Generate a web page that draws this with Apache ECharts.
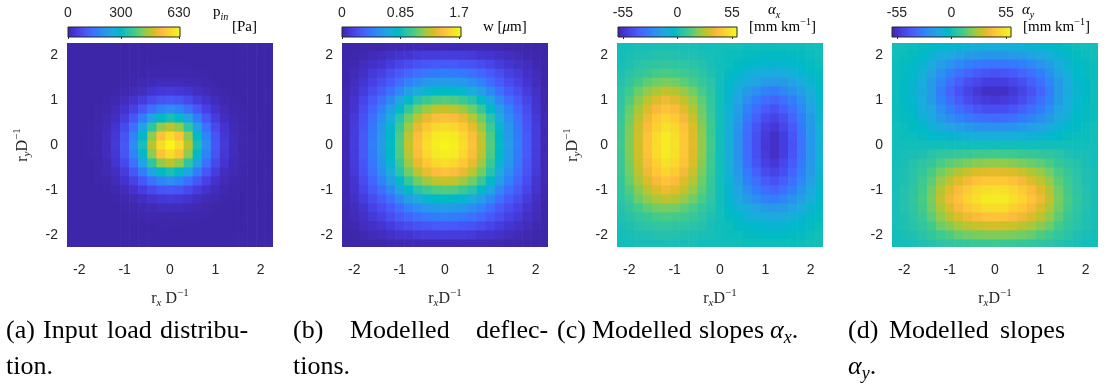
<!DOCTYPE html>
<html><head><meta charset="utf-8">
<script src="https://cdn.jsdelivr.net/npm/echarts@6/dist/echarts.min.js"></script>
<style>html,body{margin:0;padding:0;background:#fff}#c{width:1108px;height:389px}</style>
</head><body><div id="c"></div>
<script>
// ---------- data ----------
const X_CENTERS = [-2.2,-2,-1.8,-1.6,-1.4,-1.2,-1,-0.8,-0.6,-0.4,-0.2,0,0.2,0.4,0.6,0.8,1,1.2,1.4,1.6,1.8,2,2.2];
const Y_CENTERS = [2.2,2,1.8,1.6,1.4,1.2,1,0.8,0.6,0.4,0.2,0,-0.2,-0.4,-0.6,-0.8,-1,-1.2,-1.4,-1.6,-1.8,-2,-2.2];
const AXIS_TICKS = [-2,-1,0,1,2];

// (a) input load p_in [Pa], rows from y=2.2 (top) to y=-2.2 (bottom)
const loadRows = [
[0,0,0,0,0,0,0,0,0,0,0,0,0,0,0,0,0,0,0,0,0,0,0],
[0,0,0,0,0,0,0,0,0,0,0,0,0,0,0,0,0,0,0,0,0,0,0],
[0,0,0,0,0,0,0,0,1,1,2,2,2,1,1,0,0,0,0,0,0,0,0],
[0,0,0,0,0,0,1,2,3,4,5,5,5,4,3,2,1,0,0,0,0,0,0],
[0,0,0,0,0,1,3,5,9,12,16,17,16,12,9,5,3,1,0,0,0,0,0],
[0,0,0,0,1,3,7,13,22,33,41,44,41,33,22,13,7,3,1,0,0,0,0],
[0,0,0,1,3,7,16,30,51,74,92,99,92,74,51,30,16,7,3,1,0,0,0],
[0,0,0,2,5,13,30,59,99,143,179,193,179,143,99,59,30,13,5,2,0,0,0],
[0,0,1,3,9,22,51,99,166,241,300,323,300,241,166,99,51,22,9,3,1,0,0],
[0,0,1,4,12,33,74,143,241,348,435,468,435,348,241,143,74,33,12,4,1,0,0],
[0,0,2,5,16,41,92,179,300,435,543,585,543,435,300,179,92,41,16,5,2,0,0],
[0,0,2,5,17,44,99,193,323,468,585,630,585,468,323,193,99,44,17,5,2,0,0],
[0,0,2,5,16,41,92,179,300,435,543,585,543,435,300,179,92,41,16,5,2,0,0],
[0,0,1,4,12,33,74,143,241,348,435,468,435,348,241,143,74,33,12,4,1,0,0],
[0,0,1,3,9,22,51,99,166,241,300,323,300,241,166,99,51,22,9,3,1,0,0],
[0,0,0,2,5,13,30,59,99,143,179,193,179,143,99,59,30,13,5,2,0,0,0],
[0,0,0,1,3,7,16,30,51,74,92,99,92,74,51,30,16,7,3,1,0,0,0],
[0,0,0,0,1,3,7,13,22,33,41,44,41,33,22,13,7,3,1,0,0,0,0],
[0,0,0,0,0,1,3,5,9,12,16,17,16,12,9,5,3,1,0,0,0,0,0],
[0,0,0,0,0,0,1,2,3,4,5,5,5,4,3,2,1,0,0,0,0,0,0],
[0,0,0,0,0,0,0,0,1,1,2,2,2,1,1,0,0,0,0,0,0,0,0],
[0,0,0,0,0,0,0,0,0,0,0,0,0,0,0,0,0,0,0,0,0,0,0],
[0,0,0,0,0,0,0,0,0,0,0,0,0,0,0,0,0,0,0,0,0,0,0]
];

// (b) modelled deflection w [um]
const deflRows = [
[0,0,0.01,0.01,0.01,0.02,0.02,0.03,0.03,0.03,0.03,0.03,0.03,0.03,0.03,0.03,0.02,0.02,0.01,0.01,0.01,0,0],
[0,0.01,0.02,0.04,0.05,0.07,0.09,0.10,0.12,0.13,0.13,0.14,0.13,0.13,0.12,0.10,0.09,0.07,0.05,0.04,0.02,0.01,0],
[0.01,0.02,0.05,0.07,0.10,0.13,0.18,0.21,0.24,0.26,0.28,0.28,0.28,0.26,0.24,0.21,0.18,0.13,0.10,0.07,0.05,0.02,0.01],
[0.01,0.04,0.07,0.12,0.16,0.22,0.28,0.34,0.39,0.42,0.44,0.45,0.44,0.42,0.39,0.34,0.28,0.22,0.16,0.12,0.07,0.04,0.01],
[0.01,0.05,0.10,0.16,0.22,0.29,0.38,0.47,0.53,0.58,0.60,0.61,0.60,0.58,0.53,0.47,0.38,0.29,0.22,0.16,0.10,0.05,0.01],
[0.02,0.07,0.13,0.22,0.29,0.39,0.51,0.62,0.71,0.77,0.80,0.82,0.80,0.77,0.71,0.62,0.51,0.39,0.29,0.22,0.13,0.07,0.02],
[0.02,0.09,0.18,0.28,0.38,0.51,0.66,0.81,0.92,1.00,1.05,1.06,1.05,1.00,0.92,0.81,0.66,0.51,0.38,0.28,0.18,0.09,0.02],
[0.03,0.10,0.21,0.34,0.47,0.62,0.81,0.98,1.12,1.21,1.27,1.29,1.27,1.21,1.12,0.98,0.81,0.62,0.47,0.34,0.21,0.10,0.03],
[0.03,0.12,0.24,0.39,0.53,0.71,0.92,1.12,1.27,1.38,1.45,1.47,1.45,1.38,1.27,1.12,0.92,0.71,0.53,0.39,0.24,0.12,0.03],
[0.03,0.13,0.26,0.42,0.58,0.77,1.00,1.21,1.38,1.50,1.57,1.60,1.57,1.50,1.38,1.21,1.00,0.77,0.58,0.42,0.26,0.13,0.03],
[0.03,0.13,0.28,0.44,0.60,0.80,1.05,1.27,1.45,1.57,1.65,1.67,1.65,1.57,1.45,1.27,1.05,0.80,0.60,0.44,0.28,0.13,0.03],
[0.03,0.14,0.28,0.45,0.61,0.82,1.06,1.29,1.47,1.60,1.67,1.70,1.67,1.60,1.47,1.29,1.06,0.82,0.61,0.45,0.28,0.14,0.03],
[0.03,0.13,0.28,0.44,0.60,0.80,1.05,1.27,1.45,1.57,1.65,1.67,1.65,1.57,1.45,1.27,1.05,0.80,0.60,0.44,0.28,0.13,0.03],
[0.03,0.13,0.26,0.42,0.58,0.77,1.00,1.21,1.38,1.50,1.57,1.60,1.57,1.50,1.38,1.21,1.00,0.77,0.58,0.42,0.26,0.13,0.03],
[0.03,0.12,0.24,0.39,0.53,0.71,0.92,1.12,1.27,1.38,1.45,1.47,1.45,1.38,1.27,1.12,0.92,0.71,0.53,0.39,0.24,0.12,0.03],
[0.03,0.10,0.21,0.34,0.47,0.62,0.81,0.98,1.12,1.21,1.27,1.29,1.27,1.21,1.12,0.98,0.81,0.62,0.47,0.34,0.21,0.10,0.03],
[0.02,0.09,0.18,0.28,0.38,0.51,0.66,0.81,0.92,1.00,1.05,1.06,1.05,1.00,0.92,0.81,0.66,0.51,0.38,0.28,0.18,0.09,0.02],
[0.02,0.07,0.13,0.22,0.29,0.39,0.51,0.62,0.71,0.77,0.80,0.82,0.80,0.77,0.71,0.62,0.51,0.39,0.29,0.22,0.13,0.07,0.02],
[0.01,0.05,0.10,0.16,0.22,0.29,0.38,0.47,0.53,0.58,0.60,0.61,0.60,0.58,0.53,0.47,0.38,0.29,0.22,0.16,0.10,0.05,0.01],
[0.01,0.04,0.07,0.12,0.16,0.22,0.28,0.34,0.39,0.42,0.44,0.45,0.44,0.42,0.39,0.34,0.28,0.22,0.16,0.12,0.07,0.04,0.01],
[0.01,0.02,0.05,0.07,0.10,0.13,0.18,0.21,0.24,0.26,0.28,0.28,0.28,0.26,0.24,0.21,0.18,0.13,0.10,0.07,0.05,0.02,0.01],
[0,0.01,0.02,0.04,0.05,0.07,0.09,0.10,0.12,0.13,0.13,0.14,0.13,0.13,0.12,0.10,0.09,0.07,0.05,0.04,0.02,0.01,0],
[0,0,0.01,0.01,0.01,0.02,0.02,0.03,0.03,0.03,0.03,0.03,0.03,0.03,0.03,0.03,0.02,0.02,0.01,0.01,0.01,0,0]
];

// (c) modelled slopes alpha_x [mm/km]
const slopeXRows = [
[0,0,1,1,1,1,1,1,1,0,0,0,0,0,-1,-1,-1,-1,-1,-1,-1,0,0],
[0,1,2,2,3,3,3,2,2,1,1,0,-1,-1,-2,-2,-3,-3,-3,-2,-2,-1,0],
[1,2,4,5,6,7,6,5,4,3,1,0,-1,-3,-4,-5,-6,-7,-6,-5,-4,-2,-1],
[2,4,7,9,11,12,11,10,8,5,2,0,-2,-5,-8,-10,-11,-12,-11,-9,-7,-4,-2],
[3,7,11,15,18,19,18,15,12,8,4,0,-4,-8,-12,-15,-18,-19,-18,-15,-11,-7,-3],
[5,10,17,22,26,29,27,23,18,12,6,0,-6,-12,-18,-23,-27,-29,-26,-22,-17,-10,-5],
[6,13,21,28,33,37,34,29,23,15,7,0,-7,-15,-23,-29,-34,-37,-33,-28,-21,-13,-6],
[7,16,25,33,39,43,40,34,27,17,8,0,-8,-17,-27,-34,-40,-43,-39,-33,-25,-16,-7],
[8,18,28,37,44,48,45,38,30,19,9,0,-9,-19,-30,-38,-45,-48,-44,-37,-28,-18,-8],
[9,19,30,40,47,52,49,42,33,21,10,0,-10,-21,-33,-42,-49,-52,-47,-40,-30,-19,-9],
[9,20,31,42,50,55,51,44,34,22,10,0,-10,-22,-34,-44,-51,-55,-50,-42,-31,-20,-9],
[10,20,32,43,50,55,52,44,35,22,11,0,-11,-22,-35,-44,-52,-55,-50,-43,-32,-20,-10],
[9,20,31,42,50,55,51,44,34,22,10,0,-10,-22,-34,-44,-51,-55,-50,-42,-31,-20,-9],
[9,19,30,40,47,52,49,42,33,21,10,0,-10,-21,-33,-42,-49,-52,-47,-40,-30,-19,-9],
[8,18,28,37,44,48,45,38,30,19,9,0,-9,-19,-30,-38,-45,-48,-44,-37,-28,-18,-8],
[7,16,25,33,39,43,40,34,27,17,8,0,-8,-17,-27,-34,-40,-43,-39,-33,-25,-16,-7],
[6,13,21,28,33,37,34,29,23,15,7,0,-7,-15,-23,-29,-34,-37,-33,-28,-21,-13,-6],
[5,10,17,22,26,29,27,23,18,12,6,0,-6,-12,-18,-23,-27,-29,-26,-22,-17,-10,-5],
[3,7,11,15,18,19,18,15,12,8,4,0,-4,-8,-12,-15,-18,-19,-18,-15,-11,-7,-3],
[2,4,7,9,11,12,11,10,8,5,2,0,-2,-5,-8,-10,-11,-12,-11,-9,-7,-4,-2],
[1,2,4,5,6,7,6,5,4,3,1,0,-1,-3,-4,-5,-6,-7,-6,-5,-4,-2,-1],
[0,1,2,2,3,3,3,2,2,1,1,0,-1,-1,-2,-2,-3,-3,-3,-2,-2,-1,0],
[0,0,1,1,1,1,1,1,1,0,0,0,0,0,-1,-1,-1,-1,-1,-1,-1,0,0]
];

// (d) modelled slopes alpha_y [mm/km]
const slopeYRows = [
[0,0,-1,-2,-3,-5,-6,-7,-8,-9,-9,-10,-9,-9,-8,-7,-6,-5,-3,-2,-1,0,0],
[0,-1,-2,-4,-7,-10,-13,-16,-18,-19,-20,-20,-20,-19,-18,-16,-13,-10,-7,-4,-2,-1,0],
[-1,-2,-4,-7,-11,-17,-21,-25,-28,-30,-31,-32,-31,-30,-28,-25,-21,-17,-11,-7,-4,-2,-1],
[-1,-2,-5,-9,-15,-22,-28,-33,-37,-40,-42,-43,-42,-40,-37,-33,-28,-22,-15,-9,-5,-2,-1],
[-1,-3,-6,-11,-18,-26,-33,-39,-44,-47,-50,-50,-50,-47,-44,-39,-33,-26,-18,-11,-6,-3,-1],
[-1,-3,-7,-12,-19,-29,-37,-43,-48,-52,-55,-55,-55,-52,-48,-43,-37,-29,-19,-12,-7,-3,-1],
[-1,-3,-6,-11,-18,-27,-34,-40,-45,-49,-51,-52,-51,-49,-45,-40,-34,-27,-18,-11,-6,-3,-1],
[-1,-2,-5,-10,-15,-23,-29,-34,-38,-42,-44,-44,-44,-42,-38,-34,-29,-23,-15,-10,-5,-2,-1],
[-1,-2,-4,-8,-12,-18,-23,-27,-30,-33,-34,-35,-34,-33,-30,-27,-23,-18,-12,-8,-4,-2,-1],
[0,-1,-3,-5,-8,-12,-15,-17,-19,-21,-22,-22,-22,-21,-19,-17,-15,-12,-8,-5,-3,-1,0],
[0,-1,-1,-2,-4,-6,-7,-8,-9,-10,-10,-11,-10,-10,-9,-8,-7,-6,-4,-2,-1,-1,0],
[0,0,0,0,0,0,0,0,0,0,0,0,0,0,0,0,0,0,0,0,0,0,0],
[0,1,1,2,4,6,7,8,9,10,10,11,10,10,9,8,7,6,4,2,1,1,0],
[0,1,3,5,8,12,15,17,19,21,22,22,22,21,19,17,15,12,8,5,3,1,0],
[1,2,4,8,12,18,23,27,30,33,34,35,34,33,30,27,23,18,12,8,4,2,1],
[1,2,5,10,15,23,29,34,38,42,44,44,44,42,38,34,29,23,15,10,5,2,1],
[1,3,6,11,18,27,34,40,45,49,51,52,51,49,45,40,34,27,18,11,6,3,1],
[1,3,7,12,19,29,37,43,48,52,55,55,55,52,48,43,37,29,19,12,7,3,1],
[1,3,6,11,18,26,33,39,44,47,50,50,50,47,44,39,33,26,18,11,6,3,1],
[1,2,5,9,15,22,28,33,37,40,42,43,42,40,37,33,28,22,15,9,5,2,1],
[1,2,4,7,11,17,21,25,28,30,31,32,31,30,28,25,21,17,11,7,4,2,1],
[0,1,2,4,7,10,13,16,18,19,20,20,20,19,18,16,13,10,7,4,2,1,0],
[0,0,1,2,3,5,6,7,8,9,9,10,9,9,8,7,6,5,3,2,1,0,0]
];

const loadTicks = [0, 300, 630];
const deflTicks = [0, 0.85, 1.7];
const slopeXTicks = [-55, 0, 55];
const slopeYTicks = [-55, 0, 55];
const colorLimits = [[0, 636], [0, 1.73], [-60, 60], [-60, 60]];

// caption words (justified lines): [text, left x]
const captionLine1 = [
  ['(a)', 6], ['Input', 43], ['load', 107], ['distribu-', 160],
  ['(b)', 293], ['Modelled', 350], ['deflec-', 476],
  ['(c)', 557], ['Modelled', 592], ['slopes', 699], ['{g|\u03b1}{s|x}{n|.}', 770],
  ['(d)', 848], ['Modelled', 889], ['slopes', 1000]
];
const captionLine2 = [['tion.', 6], ['tions.', 293], ['{g|\u03b1}{s|y}{n|.}', 848]];

// ---------- style ----------
const PARULA = [
[0.2422,0.1504,0.6603],[0.2504,0.1650,0.7076],[0.2578,0.1818,0.7511],[0.2647,0.1978,0.7952],
[0.2706,0.2147,0.8364],[0.2751,0.2342,0.8710],[0.2783,0.2559,0.8991],[0.2803,0.2782,0.9221],
[0.2813,0.3006,0.9414],[0.2810,0.3228,0.9579],[0.2795,0.3447,0.9717],[0.2760,0.3667,0.9829],
[0.2699,0.3892,0.9906],[0.2602,0.4123,0.9952],[0.2440,0.4358,0.9988],[0.2206,0.4603,0.9973],
[0.1963,0.4847,0.9892],[0.1834,0.5074,0.9798],[0.1786,0.5289,0.9682],[0.1764,0.5499,0.9520],
[0.1687,0.5703,0.9359],[0.1540,0.5902,0.9218],[0.1460,0.6091,0.9079],[0.1380,0.6276,0.8973],
[0.1248,0.6459,0.8883],[0.1113,0.6635,0.8763],[0.0952,0.6798,0.8598],[0.0689,0.6948,0.8394],
[0.0297,0.7082,0.8163],[0.0036,0.7203,0.7917],[0.0067,0.7312,0.7660],[0.0433,0.7411,0.7394],
[0.0964,0.7500,0.7120],[0.1408,0.7584,0.6842],[0.1717,0.7670,0.6554],[0.1938,0.7758,0.6251],
[0.2161,0.7843,0.5923],[0.2470,0.7918,0.5567],[0.2906,0.7973,0.5188],[0.3406,0.8008,0.4789],
[0.3909,0.8029,0.4354],[0.4456,0.8024,0.3909],[0.5044,0.7993,0.3480],[0.5616,0.7942,0.3045],
[0.6174,0.7876,0.2612],[0.6720,0.7793,0.2227],[0.7242,0.7698,0.1910],[0.7738,0.7598,0.1646],
[0.8203,0.7498,0.1535],[0.8634,0.7406,0.1596],[0.9035,0.7330,0.1774],[0.9393,0.7288,0.2100],
[0.9728,0.7298,0.2394],[0.9956,0.7434,0.2371],[0.9970,0.7659,0.2199],[0.9952,0.7893,0.2028],
[0.9892,0.8136,0.1885],[0.9786,0.8386,0.1766],[0.9676,0.8639,0.1643],[0.9610,0.8890,0.1537],
[0.9597,0.9135,0.1423],[0.9628,0.9373,0.1265],[0.9691,0.9606,0.1064],[0.9769,0.9839,0.0805]
];
const PARULA_CSS = PARULA.map(c => 'rgb(' + c.map(v => Math.round(v * 255)).join(',') + ')');

const SANS = 'Liberation Sans';
const SERIF = 'Liberation Serif';
const INK = '#262626';
const LIM = 2.27;
const CELL_HALF = 0.1;
const PANEL_LEFT = [67, 342, 617, 892];
const PANEL_TOP = 43, PANEL_W = 206, PANEL_H = 204;
const CB_LEFT = [68, 342, 618, 892];
const CB_W = [112, 119, 119, 119];
const CB_TOP = 27, CB_H = 10;

const panelRows = [loadRows, deflRows, slopeXRows, slopeYRows];
const cbTicks = [loadTicks, deflTicks, slopeXTicks, slopeYTicks];

function toCells(rows) {
  const out = [];
  rows.forEach((row, k) => row.forEach((v, i) => out.push([X_CENTERS[i], Y_CENTERS[k], v])));
  return out;
}

const mathRich = {
  n: {fontFamily: SERIF, fontSize: 16, lineHeight: 21, verticalAlign: 'middle', color: INK},
  s: {fontFamily: SERIF, fontSize: 11, fontStyle: 'italic', lineHeight: 21, verticalAlign: 'bottom', color: INK},
  p: {fontFamily: SERIF, fontSize: 11, lineHeight: 21, verticalAlign: 'top', color: INK}
};
const xNames = ['{n|r}{s|x}{n| D}{p|\u22121}', '{n|r}{s|x}{n|D}{p|\u22121}', '{n|r}{s|x}{n|D}{p|\u22121}', '{n|r}{s|x}{n|D}{p|\u22121}'];
const yNames = ['{n|r}{s|y}{n|D}{p|\u22121}', '', '{n|r}{s|y}{n|D}{p|\u22121}', ''];

const grids = [], xAxes = [], yAxes = [], series = [], visualMaps = [];
const gradient = new echarts.graphic.LinearGradient(0, 0, 1, 0,
  PARULA_CSS.map((c, i) => ({offset: i / (PARULA_CSS.length - 1), color: c})));

for (let i = 0; i < 4; i++) {
  grids.push({left: PANEL_LEFT[i], top: PANEL_TOP, width: PANEL_W, height: PANEL_H, containLabel: false});
}
for (let i = 0; i < 4; i++) {
  grids.push({left: CB_LEFT[i], top: CB_TOP, width: CB_W[i], height: CB_H, show: true,
    backgroundColor: gradient, borderColor: INK, borderWidth: 1});
}
const tickStyle = {show: true, length: 2, lineStyle: {color: INK, width: 1}};
for (let i = 0; i < 4; i++) {
  xAxes.push({gridIndex: i, type: 'value', min: -LIM, max: LIM, position: 'bottom',
    axisLine: {show: false}, splitLine: {show: false},
    axisTick: Object.assign({customValues: AXIS_TICKS}, tickStyle),
    axisLabel: {customValues: AXIS_TICKS, margin: 16, fontSize: 14, fontFamily: SANS, color: INK},
    name: xNames[i], nameLocation: 'middle', nameGap: 41,
    nameTextStyle: {rich: mathRich, fontFamily: SERIF, fontSize: 16, color: INK}});
}
for (let i = 0; i < 4; i++) {
  xAxes.push({gridIndex: i, type: 'value', min: -LIM, max: LIM, position: 'top',
    axisLine: {show: false}, splitLine: {show: false},
    axisTick: Object.assign({customValues: AXIS_TICKS}, tickStyle), axisLabel: {show: false}});
}
for (let i = 0; i < 4; i++) {
  xAxes.push({gridIndex: 4 + i, type: 'value', min: colorLimits[i][0], max: colorLimits[i][1], position: 'top',
    axisLine: {show: false}, splitLine: {show: false},
    axisTick: {show: true, inside: true, length: 2, customValues: cbTicks[i], lineStyle: {color: INK}},
    axisLabel: {customValues: cbTicks[i], margin: 7, fontSize: 14, fontFamily: SANS, color: INK}});
}
for (let i = 0; i < 4; i++) {
  yAxes.push({gridIndex: i, type: 'value', min: -LIM, max: LIM, position: 'left',
    axisLine: {show: false}, splitLine: {show: false},
    axisTick: Object.assign({customValues: AXIS_TICKS}, tickStyle),
    axisLabel: {customValues: AXIS_TICKS, margin: 9, fontSize: 14, fontFamily: SANS, color: INK},
    name: yNames[i], nameLocation: 'middle', nameGap: 34, nameRotate: 90,
    nameTextStyle: {rich: mathRich, fontFamily: SERIF, fontSize: 16, color: INK}});
}
for (let i = 0; i < 4; i++) {
  yAxes.push({gridIndex: i, type: 'value', min: -LIM, max: LIM, position: 'right',
    axisLine: {show: false}, splitLine: {show: false},
    axisTick: Object.assign({customValues: AXIS_TICKS}, tickStyle), axisLabel: {show: false}});
}
for (let i = 0; i < 4; i++) {
  yAxes.push({gridIndex: 4 + i, type: 'value', min: 0, max: 1, show: false});
}
function renderCell(params, api) {
  const x = api.value(0), y = api.value(1);
  const p0 = api.coord([x - CELL_HALF, y + CELL_HALF]);
  const p1 = api.coord([x + CELL_HALF, y - CELL_HALF]);
  return {type: 'rect',
    shape: {x: p0[0], y: p0[1], width: p1[0] - p0[0] + 0.6, height: p1[1] - p0[1] + 0.6},
    style: {fill: api.visual('color')}};
}
for (let i = 0; i < 4; i++) {
  series.push({type: 'custom', xAxisIndex: i, yAxisIndex: i, clip: true,
    renderItem: renderCell, data: toCells(panelRows[i]), silent: true});
  visualMaps.push({type: 'continuous', show: false, seriesIndex: i, dimension: 2,
    min: colorLimits[i][0], max: colorLimits[i][1], inRange: {color: PARULA_CSS}});
}

// text labels
function label(x, y, text, rich, size) {
  return {type: 'text', x: x, y: y, silent: true,
    style: {text: text, rich: rich, fontFamily: SERIF, fontSize: size, fill: '#000',
      align: 'left', verticalAlign: 'middle', textAlign: 'left', textVerticalAlign: 'middle'}};
}
const capRich = {
  n: {fontFamily: SERIF, fontSize: 26, lineHeight: 33, verticalAlign: 'middle', color: '#000'},
  g: {fontFamily: SERIF, fontSize: 26, fontStyle: 'italic', lineHeight: 33, verticalAlign: 'middle', color: '#000'},
  s: {fontFamily: SERIF, fontSize: 18, fontStyle: 'italic', lineHeight: 33, verticalAlign: 'bottom', color: '#000'}
};
const cbRich = {
  n: {fontFamily: SERIF, fontSize: 15, lineHeight: 20, verticalAlign: 'middle', color: INK},
  g: {fontFamily: SERIF, fontSize: 15, fontStyle: 'italic', lineHeight: 20, verticalAlign: 'middle', color: INK},
  s: {fontFamily: SERIF, fontSize: 10, fontStyle: 'italic', lineHeight: 20, verticalAlign: 'bottom', color: INK},
  p: {fontFamily: SERIF, fontSize: 10, lineHeight: 20, verticalAlign: 'top', color: INK}
};
const graphics = [
  label(213, 12, '{n|p}{s|in}', cbRich, 15),
  label(232, 27, '{n|[Pa]}', cbRich, 15),
  label(483, 27, '{n|w [}{g|\u03bc}{n|m]}', cbRich, 15),
  label(768, 10, '{g|\u03b1}{s|x}', cbRich, 15),
  label(749, 27, '{n|[mm km}{p|\u22121}{n|]}', cbRich, 15),
  label(1022, 10, '{g|\u03b1}{s|y}', cbRich, 15),
  label(1023, 27, '{n|[mm km}{p|\u22121}{n|]}', cbRich, 15)
];
function wrapWord(w) { return w.indexOf('{') === 0 ? w : '{n|' + w + '}'; }
captionLine1.forEach(([w, x]) => graphics.push(label(x, 331, wrapWord(w), capRich, 26)));
captionLine2.forEach(([w, x]) => graphics.push(label(x, 367, wrapWord(w), capRich, 26)));

const chart = echarts.init(document.getElementById('c'), null, {renderer: 'canvas'});
chart.setOption({
  animation: false,
  backgroundColor: '#fff',
  grid: grids, xAxis: xAxes, yAxis: yAxes,
  visualMap: visualMaps, series: series, graphic: graphics
});
</script></body></html>
